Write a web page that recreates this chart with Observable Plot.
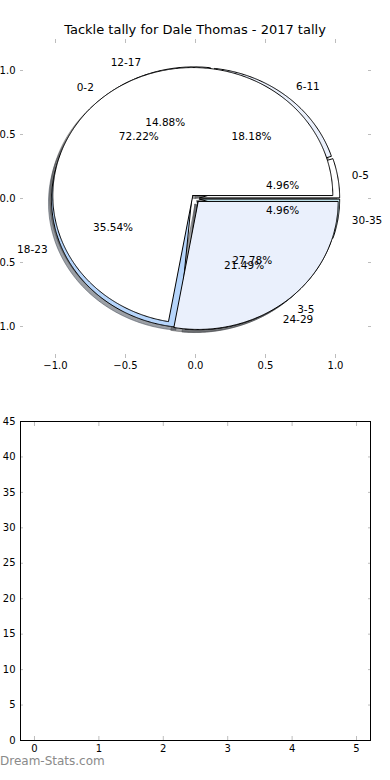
<!DOCTYPE html>
<html>
<head>
<meta charset="utf-8">
<script src="https://cdn.jsdelivr.net/npm/d3@7"></script>
<script src="https://cdn.jsdelivr.net/npm/@observablehq/plot@0.6"></script>
<style>
  body { margin: 0; background: #fff; font-family: "DejaVu Sans", sans-serif; }
  #wrap { position: relative; width: 390px; height: 780px; overflow: hidden; background: #fff; }
  #top { position: absolute; left: 0; top: 0; }
  #bottom { position: absolute; left: 0; top: 385px; }
  #title { position: absolute; left: 0; top: 22px; width: 390px; text-align: center;
           font-size: 13px; line-height: 15px; color: #000; }
  #mark { position: absolute; left: 0; top: 754px; font-size: 12px; line-height: 14px; color: #8a8a8a; }
</style>
</head>
<body>
<div id="wrap">
  <div id="top"></div>
  <div id="title"></div>
  <div id="bottom"></div>
  <div id="mark"></div>
</div>
<script>
// ---- data ----
const chartTitle = "Tackle tally for Dale Thomas - 2017 tally";
const watermark = "Dream-Stats.com";
const tallyBands = ["0-2", "3-5"];
const tallyShares = [72.22, 27.78];
const ageBands = ["0-5", "6-11", "12-17", "18-23", "24-29", "30-35"];
const ageShares = [4.96, 18.18, 14.88, 35.54, 21.49, 4.96];
const wedgeColors = ["#ffffff", "#eaf0fc", "#e2ebf8", "#b6d5fb", "#dce7f7", "#c9edf6"];
const explodeBy = 0.03;
const shadowShift = -0.022;
const pieTicks = [-1, -0.5, 0, 0.5, 1];
const lowerXTicks = [0, 1, 2, 3, 4, 5];
const lowerYTicks = [0, 5, 10, 15, 20, 25, 30, 35, 40, 45];

document.getElementById("title").textContent = chartTitle;
document.getElementById("mark").textContent = watermark;

const DEG = Math.PI / 180;
function pieGeometry(labels, shares, key) {
  const total = d3.sum(shares);
  let acc = 0;
  return labels.map((label, i) => {
    const t1 = acc / total * 360;
    acc += shares[i];
    const t2 = acc / total * 360;
    const tm = (t1 + t2) / 2 * DEG;
    const cx = explodeBy * Math.cos(tm), cy = explodeBy * Math.sin(tm);
    const n = Math.max(2, Math.ceil((t2 - t1) / 0.5));
    const pts = [{x: cx, y: cy}];
    for (let k = 0; k <= n; k++) {
      const a = (t1 + (t2 - t1) * k / n) * DEG;
      pts.push({x: cx + Math.cos(a), y: cy + Math.sin(a)});
    }
    pts.push({x: cx, y: cy});
    const color = wedgeColors[i % wedgeColors.length];
    const c = d3.rgb(color);
    const shadow = d3.rgb(c.r * 0.3, c.g * 0.3, c.b * 0.3).formatHex();
    return {
      key: key + i, pts, color, shadow,
      label: {x: cx + 1.1 * Math.cos(tm), y: cy + 1.1 * Math.sin(tm), text: label},
      pct: {x: cx + 0.6 * Math.cos(tm), y: cy + 0.6 * Math.sin(tm),
            text: (shares[i] / total * 100).toFixed(2) + "%"}
    };
  });
}

const agePie = pieGeometry(ageBands, ageShares, "a");
const tallyPie = pieGeometry(tallyBands, tallyShares, "t");
const allWedges = [...agePie, ...tallyPie];

const shadowMarks = allWedges.map(w => Plot.line(w.pts, {
  x: d => d.x + shadowShift, y: d => d.y + shadowShift,
  fill: w.shadow, fillOpacity: 0.5, stroke: w.shadow, strokeOpacity: 0.5, strokeWidth: 1
}));
const wedgeMarks = allWedges.map(w => Plot.line(w.pts, {
  x: "x", y: "y", fill: w.color, stroke: "black", strokeWidth: 1, strokeLinejoin: "miter"
}));
const labels = allWedges.map(w => w.label);
const pcts = allWedges.map(w => w.pct);

const fmt1 = d3.format(".1f");
const tickGrey = "#bdbdbd";

const topPlot = Plot.plot({
  width: 390, height: 385,
  marginLeft: 20, marginRight: 20, marginTop: 38, marginBottom: 27,
  x: {domain: [-1.25, 1.25], label: null},
  y: {domain: [-1.25, 1.25], label: null},
  style: {fontFamily: "DejaVu Sans", fontSize: "10px", background: "transparent", color: "black"},
  marks: [
    ...shadowMarks,
    ...wedgeMarks,
    Plot.text(labels.filter(d => d.x > 0), {x: "x", y: "y", text: "text", textAnchor: "start", fontSize: 10.5, fill: "black"}),
    Plot.text(labels.filter(d => d.x <= 0), {x: "x", y: "y", text: "text", textAnchor: "end", fontSize: 10.5, fill: "black"}),
    Plot.text(pcts, {x: "x", y: "y", text: "text", textAnchor: "middle", fontSize: 10.5, fill: "black"}),
    Plot.axisY({anchor: "left", label: null, ticks: pieTicks, tickFormat: fmt1, tickSize: 3, dx: 3, tickPadding: 5, stroke: tickGrey, fill: "black", fontSize: 10}),
    Plot.axisY({anchor: "right", label: null, ticks: pieTicks, tickFormat: () => "", tickSize: 3, dx: -3, stroke: tickGrey}),
    Plot.axisX({anchor: "bottom", label: null, ticks: pieTicks, tickFormat: fmt1, tickSize: 4, dy: -4, tickPadding: 3, stroke: tickGrey, fill: "black", fontSize: 10}),
    Plot.axisX({anchor: "top", label: null, ticks: pieTicks, tickFormat: () => "", tickSize: 4, dy: 4, stroke: tickGrey})
  ]
});
document.getElementById("top").appendChild(topPlot);

const bottomPlot = Plot.plot({
  width: 390, height: 395,
  marginLeft: 20, marginRight: 20, marginTop: 36, marginBottom: 40,
  x: {domain: [-0.217, 5.217], label: null},
  y: {domain: [0, 45], label: null},
  style: {fontFamily: "DejaVu Sans", fontSize: "10px", background: "transparent", color: "black"},
  marks: [
    Plot.axisY({anchor: "left", label: null, ticks: lowerYTicks, tickFormat: d => String(d), tickSize: 3, dx: 3, tickPadding: 5, stroke: tickGrey, fill: "black", fontSize: 10}),
    Plot.axisY({anchor: "right", label: null, ticks: lowerYTicks, tickFormat: () => "", tickSize: 3, dx: -3, stroke: tickGrey}),
    Plot.axisX({anchor: "bottom", label: null, ticks: lowerXTicks, tickFormat: d => String(d), tickSize: 4, dy: -4, tickPadding: 4, stroke: tickGrey, fill: "black", fontSize: 10}),
    Plot.axisX({anchor: "top", label: null, ticks: lowerXTicks, tickFormat: () => "", tickSize: 4, dy: 4, stroke: tickGrey}),
    Plot.frame({stroke: "black", strokeWidth: 1})
  ]
});
document.getElementById("bottom").appendChild(bottomPlot);
</script>
</body>
</html>
